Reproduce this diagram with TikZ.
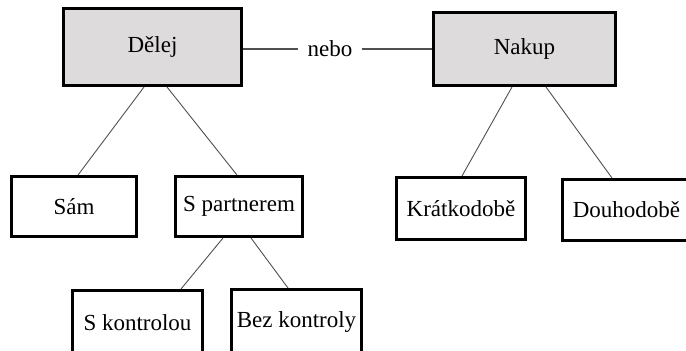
\documentclass[tikz,border=0pt]{standalone}
\usepackage{fontspec}
\setmainfont{Liberation Serif}
\usepackage{xcolor}
\usepackage{tikz}
\definecolor{boxgray}{HTML}{DDDBDC}
\definecolor{linegray}{HTML}{505050}
\tikzset{
  optnode/.style={draw=black,line width=3.3pt,inner sep=2pt,font=\fontsize{23}{27}\selectfont},
  topnode/.style={optnode,fill=boxgray},
  subnode/.style={optnode,fill=white},
  treeedge/.style={linegray,line width=0.9pt},
  oredge/.style={linegray,line width=1.4pt},
}

\begin{document}
\begin{tikzpicture}[x=1pt,y=-1pt]
  \clip (0,0) rectangle (686,351);
  \fill[white] (0,0) rectangle (686,351);
  \node[topnode,minimum width=177.7pt,minimum height=76.7pt] (nDel) at (152.5,47) {Dělej};
  \node[topnode,minimum width=181.7pt,minimum height=72.7pt] (nNak) at (524.5,49) {Nakup};
  \node[font=\fontsize{23}{27}\selectfont,inner sep=9pt] (nOr) at (330,49) {nebo};
  \node[subnode,minimum width=124.7pt,minimum height=59.7pt] (nSam) at (74,206.5) {Sám};
  \node[subnode,minimum width=126.7pt,minimum height=59.7pt] (nPar) at (239,206.5) {S partnerem};
  \node[subnode,minimum width=128.7pt,minimum height=61.7pt] (nKra) at (461,208.5) {Krátkodobě};
  \node[subnode,minimum width=127.7pt,minimum height=60.7pt] (nDou) at (626.5,210) {Douhodobě};
  \node[subnode,minimum width=129.7pt,minimum height=64.7pt] (nKon) at (137.5,323) {S kontrolou};
  \node[subnode,minimum width=129.7pt,minimum height=64.7pt] (nBez) at (296.5,322) {Bez kontroly};
  \draw[oredge] (nDel.east |- nOr.west) -- (nOr.west);
  \draw[oredge] (nOr.east) -- (nNak.west);
  \draw[treeedge] ([xshift=-8.5pt]nDel.south) -- ([xshift=4pt]nSam.north);
  \draw[treeedge] ([xshift=14.5pt]nDel.south) -- ([xshift=-2pt]nPar.north);
  \draw[treeedge] ([xshift=-12.5pt]nNak.south) -- ([xshift=1pt]nKra.north);
  \draw[treeedge] ([xshift=21.5pt]nNak.south) -- ([xshift=-14.5pt]nDou.north);
  \draw[treeedge] ([xshift=-16pt]nPar.south) -- ([xshift=43.5pt]nKon.north);
  \draw[treeedge] ([xshift=12pt]nPar.south) -- ([xshift=-8.5pt]nBez.north);
\end{tikzpicture}
\end{document}
